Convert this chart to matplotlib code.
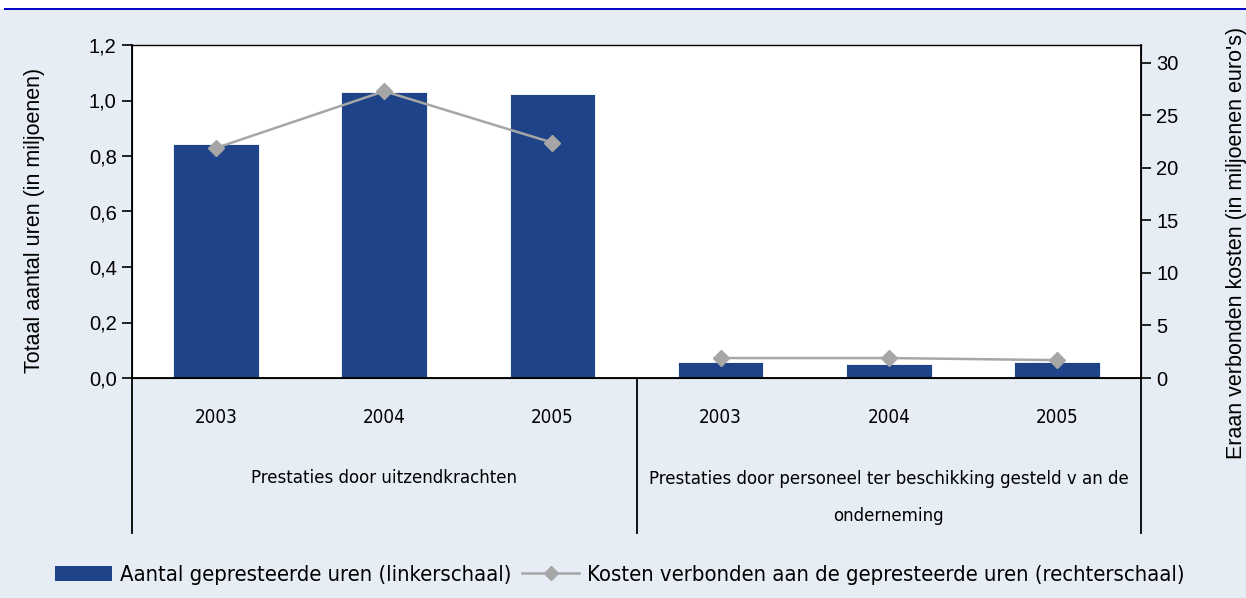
import numpy as np
import matplotlib
matplotlib.use("Agg")
import matplotlib.pyplot as plt
from matplotlib.lines import Line2D
from matplotlib.patches import Rectangle

# data
years = ["2003", "2004", "2005", "2003", "2004", "2005"]
groups = ["Prestaties door uitzendkrachten",
          "Prestaties door personeel ter beschikking gesteld v an de\nonderneming"]
uren = [0.843, 1.031, 1.023, 0.058, 0.050, 0.058]      # miljoenen uren
kosten = [21.9, 27.3, 22.4, 1.9, 1.9, 1.7]             # miljoenen euro

bg = "#E6EDF5"
bar_col = "#1F4388"
line_col = "#A6A6A6"
narrow = dict(family="DejaVu Sans", stretch="condensed")
plt.rcParams["font.family"] = ["Liberation Sans", "DejaVu Sans"]

fig = plt.figure(figsize=(12.46, 5.98), dpi=100, facecolor=bg)
# white strip with blue rule on top
fig.patches.append(Rectangle((0, 1 - 9 / 598), 1, 9 / 598, transform=fig.transFigure,
                             facecolor="white", edgecolor="none", zorder=0))
fig.lines.append(Line2D([5 / 1246, 1], [1 - 9 / 598] * 2, transform=fig.transFigure,
                        color="#0000CC", lw=1.4))

ax = fig.add_axes([132 / 1246, 1 - 378 / 598, 1009 / 1246, 333 / 598])
ax.set_facecolor("white")
x = np.arange(len(years))
ax.bar(x, uren, width=0.51, color=bar_col, edgecolor="white", linewidth=0.6, zorder=2)
ax.set_xlim(-0.5, len(years) - 0.5)
ax.set_ylim(0, 1.2)
ax.set_yticks(np.arange(0, 1.21, 0.2))
ax.set_yticklabels([f"{v:.1f}".replace(".", ",") for v in np.arange(0, 1.21, 0.2)])
ax.set_xticks([])
ax.tick_params(axis="y", labelsize=14.5, length=7, width=1.2, direction="out", pad=4)
ax.set_ylabel("Totaal aantal uren (in miljoenen)", fontsize=15.5)
ax.yaxis.set_label_coords(-0.086, 0.474)
for s in ["left", "bottom"]:
    ax.spines[s].set_linewidth(1.3)
ax.spines["top"].set_linewidth(1.0)
ax.spines["top"].set_color("#333333")

ax2 = ax.twinx()
# line is broken between the two groups
for sl in (slice(0, 3), slice(3, 6)):
    ax2.plot(x[sl], kosten[sl], color=line_col, lw=1.8, marker="D", markersize=8,
             markerfacecolor=line_col, markeredgecolor=line_col, zorder=3)
ax2.set_ylim(0, 31.7)
ax2.set_yticks(np.arange(0, 31, 5))
ax2.tick_params(axis="y", labelsize=14.5, length=7, width=1.2, direction="out", pad=4)
ax2.set_ylabel("Eraan verbonden kosten (in miljoenen euro's)", fontsize=15.5)
ax2.yaxis.set_label_coords(1.084, 0.405)
ax2.spines["right"].set_linewidth(1.3)

# category axis below the plot
tr = ax.get_xaxis_transform()
for xi, yr in zip(x, years):
    ax.text(xi, -0.12, yr, transform=tr, ha="center", va="center", fontsize=13.5, **narrow)
ax.text(1, -0.30, groups[0], transform=tr, ha="center", va="center", fontsize=13.3, **narrow)
ax.text(4, -0.358, groups[1], transform=tr, ha="center", va="center", fontsize=13.3,
        linespacing=2.35, **narrow)
for xs in [-0.5, 2.5, 5.5]:
    ax.plot([xs, xs], [0, -0.465], transform=tr, color="black", lw=1.3, clip_on=False)

handles = [Rectangle((0, 0), 1, 1, facecolor=bar_col),
           Line2D([], [], color=line_col, lw=1.8, marker="D", markersize=7)]
labels = ["Aantal gepresteerde uren (linkerschaal)",
          "Kosten verbonden aan de gepresteerde uren (rechterschaal)"]
fig.legend(handles, labels, loc="center", bbox_to_anchor=(620 / 1246, 1 - 575 / 598),
           ncol=2, frameon=False, prop=dict(size=15.8, **narrow),
           handlelength=2.6, handletextpad=0.35, columnspacing=0.5, handleheight=0.7)

fig.savefig("out.png", dpi=100, facecolor=bg)
